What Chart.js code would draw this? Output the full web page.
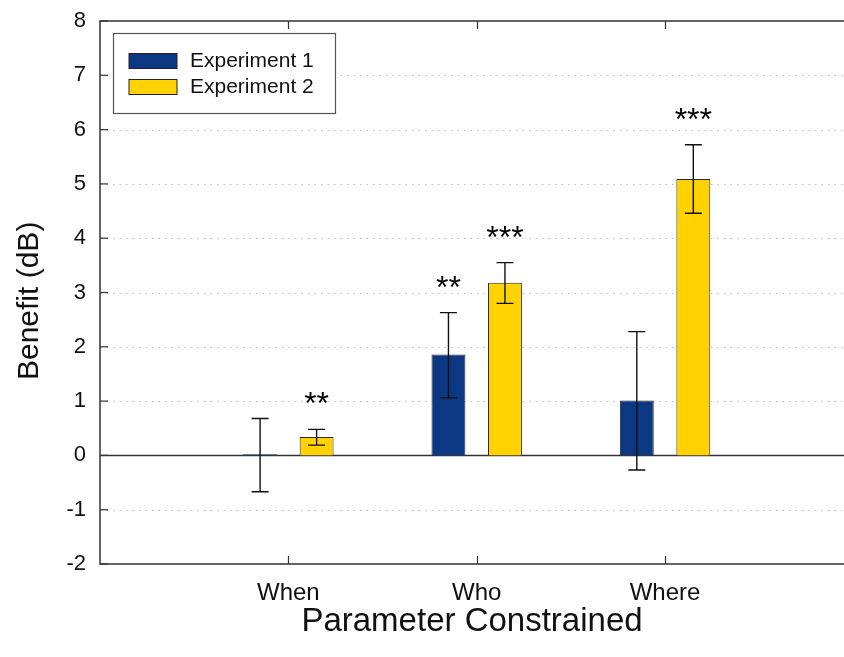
<!DOCTYPE html>
<html>
<head>
<meta charset="utf-8">
<script src="https://cdn.jsdelivr.net/npm/chart.js@4"></script>
<style>
  html, body { margin: 0; padding: 0; background: #fff; overflow: hidden; }
  #wrap { width: 844px; height: 657px; }
</style>
</head>
<body>
<div id="wrap"><canvas id="benefitChart" width="844" height="657"></canvas></div>
<script>
// chart data
const categories = ['When', 'Who', 'Where'];
const seriesNames = ['Experiment 1', 'Experiment 2'];
const exp1Values = [0.02, 1.86, 1.01];
const exp1Low = [-0.67, 1.06, -0.27];
const exp1High = [0.68, 2.63, 2.28];
const exp2Values = [0.34, 3.18, 5.09];
const exp2Low = [0.19, 2.80, 4.46];
const exp2High = [0.48, 3.55, 5.72];
const exp1Stars = ['', '**', ''];
const exp2Stars = ['**', '***', '***'];
const yTicks = [-2, -1, 0, 1, 2, 3, 4, 5, 6, 7, 8];

const FONT = '"Liberation Sans", Arial, sans-serif';
const BLUE = '#0c3883';
const GOLD = '#ffd200';

const lows = [exp1Low, exp2Low];
const highs = [exp1High, exp2High];
const stars = [exp1Stars, exp2Stars];

// dotted grid, frame, inward ticks
const framePlugin = {
    id: 'frame',
    beforeDatasetsDraw(chart) {
        const { ctx, chartArea: a, scales: { x, y } } = chart;
        ctx.save();
        ctx.lineWidth = 1;
        ctx.strokeStyle = '#bdbdbd';
        ctx.setLineDash([1.5, 5]);
        y.ticks.forEach(t => {
            if (t.value === 0 || t.value === y.min || t.value === y.max) return;
            const py = Math.round(y.getPixelForValue(t.value)) + 0.5;
            ctx.beginPath();
            ctx.moveTo(a.left, py);
            ctx.lineTo(a.right, py);
            ctx.stroke();
        });
        ctx.setLineDash([]);
        ctx.strokeStyle = '#333';
        ctx.lineWidth = 1.5;
        // zero line
        const zy = y.getPixelForValue(0);
        ctx.beginPath();
        ctx.moveTo(a.left, zy);
        ctx.lineTo(a.right, zy);
        ctx.stroke();
        // frame: left, top, bottom
        ctx.beginPath();
        ctx.moveTo(a.right + 2, a.top);
        ctx.lineTo(a.left, a.top);
        ctx.lineTo(a.left, a.bottom);
        ctx.lineTo(a.right + 2, a.bottom);
        ctx.stroke();
        // ticks
        ctx.lineWidth = 1.2;
        y.ticks.forEach(t => {
            const py = y.getPixelForValue(t.value);
            ctx.beginPath();
            ctx.moveTo(a.left, py);
            ctx.lineTo(a.left + 8, py);
            ctx.stroke();
        });
        x.ticks.forEach(t => {
            const px = Math.round(x.getPixelForValue(t.value)) + 0.5;
            ctx.beginPath();
            ctx.moveTo(px, a.top);
            ctx.lineTo(px, a.top + 8);
            ctx.moveTo(px, a.bottom);
            ctx.lineTo(px, a.bottom - 8);
            ctx.stroke();
        });
        ctx.restore();
    }
};

// error bars and significance stars
const errorPlugin = {
    id: 'errorBars',
    afterDatasetsDraw(chart) {
        const { ctx, scales: { y } } = chart;
        ctx.save();
        ctx.strokeStyle = '#111';
        ctx.lineWidth = 1.4;
        ctx.fillStyle = '#000';
        ctx.font = '32px ' + FONT;
        ctx.textAlign = 'center';
        ctx.textBaseline = 'alphabetic';
        chart.data.datasets.forEach((ds, di) => {
            const meta = chart.getDatasetMeta(di);
            meta.data.forEach((bar, i) => {
                const px = bar.x;
                const top = y.getPixelForValue(highs[di][i]);
                const bot = y.getPixelForValue(lows[di][i]);
                ctx.beginPath();
                ctx.moveTo(px, top);
                ctx.lineTo(px, bot);
                ctx.moveTo(px - 8.5, top);
                ctx.lineTo(px + 8.5, top);
                ctx.moveTo(px - 8.5, bot);
                ctx.lineTo(px + 8.5, bot);
                ctx.stroke();
                if (stars[di][i]) {
                    ctx.fillText(stars[di][i], px, top - 15);
                }
            });
        });
        ctx.restore();
    }
};

// boxed legend in the upper left
const legendPlugin = {
    id: 'boxLegend',
    afterDraw(chart) {
        const { ctx } = chart;
        ctx.save();
        ctx.fillStyle = '#fff';
        ctx.fillRect(113.5, 33.5, 222, 80);
        ctx.strokeStyle = '#555';
        ctx.lineWidth = 1.2;
        ctx.strokeRect(113.5, 33.5, 222, 80);
        ctx.font = '21px ' + FONT;
        ctx.textBaseline = 'middle';
        ctx.textAlign = 'left';
        chart.data.datasets.forEach((ds, i) => {
            const sy = 53.5 + i * 26;
            ctx.fillStyle = ds.backgroundColor;
            ctx.fillRect(129, sy, 48, 15);
            ctx.strokeStyle = '#222';
            ctx.lineWidth = 1;
            ctx.strokeRect(129, sy, 48, 15);
            ctx.fillStyle = '#111';
            ctx.fillText(ds.label, 190, sy + 8);
        });
        ctx.restore();
    }
};

const toPoints = vals => vals.map((v, i) => ({ x: i + 1, y: v }));

new Chart(document.getElementById('benefitChart'), {
    type: 'bar',
    data: {
        datasets: [
            {
                label: seriesNames[0],
                data: toPoints(exp1Values),
                backgroundColor: BLUE,
                borderColor: '#2a2a2a',
                borderWidth: 1
            },
            {
                label: seriesNames[1],
                data: toPoints(exp2Values),
                backgroundColor: GOLD,
                borderColor: '#2a2a2a',
                borderWidth: 1
            }
        ]
    },
    options: {
        responsive: false,
        animation: false,
        categoryPercentage: 0.6,
        barPercentage: 0.6,
        layout: { padding: { top: 21, right: 0, left: 0, bottom: 0 } },
        plugins: {
            legend: { display: false },
            tooltip: { enabled: false }
        },
        scales: {
            x: {
                type: 'linear',
                offset: false,
                min: 0,
                max: 3.95,
                grid: { display: false, drawTicks: false },
                border: { display: false },
                afterBuildTicks: s => { s.ticks = [1, 2, 3].map(v => ({ value: v })); },
                afterFit: s => { s.height = 93; s.paddingLeft = 0; s.paddingRight = 0; },
                ticks: {
                    autoSkip: false,
                    maxRotation: 0,
                    padding: 15,
                    color: '#111',
                    font: { family: FONT, size: 24 },
                    callback: v => categories[v - 1]
                },
                title: {
                    display: true,
                    text: 'Parameter Constrained',
                    color: '#111',
                    font: { family: FONT, size: 33 },
                    padding: { top: 0, bottom: 15 }
                }
            },
            y: {
                min: -2,
                max: 8,
                grid: { display: false, drawTicks: false },
                border: { display: false },
                afterBuildTicks: s => { s.ticks = yTicks.map(v => ({ value: v })); },
                afterFit: s => { s.width = 100; s.paddingTop = 0; s.paddingBottom = 0; },
                ticks: {
                    padding: 14,
                    color: '#111',
                    font: { family: FONT, size: 22 }
                },
                title: {
                    display: true,
                    text: 'Benefit (dB)  ',
                    color: '#111',
                    font: { family: FONT, size: 30 },
                    padding: { top: 12, bottom: 0 }
                }
            }
        }
    },
    plugins: [framePlugin, errorPlugin, legendPlugin]
});
</script>
</body>
</html>
